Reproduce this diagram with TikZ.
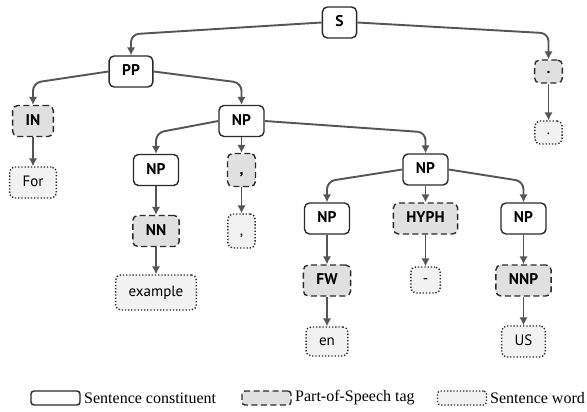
\documentclass[tikz,border=0pt]{standalone}
\usepackage{fontspec}
\setmainfont{Liberation Serif}
\setsansfont{PT Sans}
\usetikzlibrary{arrows.meta}
\definecolor{edgegray}{HTML}{555555}
\definecolor{tagfill}{HTML}{E0E0E0}
\definecolor{wordfill}{HTML}{F2F2F2}
\definecolor{border}{HTML}{2A2A2A}

\begin{document}
\begin{tikzpicture}[x=1pt,y=-1pt,
  base/.style={rounded corners=5pt, line width=1.4pt, draw=border,
    minimum height=31pt, inner xsep=13pt, inner ysep=0pt,
    text height=11pt, text depth=3pt, text=black},
  cons/.style={base, fill=white, font=\sffamily\bfseries\fontsize{15.5}{18}\selectfont},
  tag/.style={base, fill=tagfill, dash pattern=on 6pt off 3.5pt,
    font=\sffamily\bfseries\fontsize{15.5}{18}\selectfont},
  word/.style={base, fill=wordfill, dash pattern=on 1.3pt off 1.9pt,
    font=\sffamily\fontsize{15}{18}\selectfont},
  edge/.style={draw=edgegray, line width=1.9pt, rounded corners=8pt,
    -{Latex[length=8pt,width=8.5pt]}},
  key/.style={minimum width=49pt, minimum height=14pt, rounded corners=3pt,
    inner sep=0pt, text height=0pt, text depth=0pt},
  keytext/.style={anchor=west, inner sep=0pt, font=\fontsize{16}{19}\selectfont},
]
\useasboundingbox (0,0) rectangle (587,412);

% constituents
\node[cons] (S)   at (339.5,22.5) {S};
\node[cons] (PP)  at (131,71.5)   {PP};
\node[cons] (NP1) at (241.5,121)  {NP};
\node[cons] (NP2) at (156,170)    {NP};
\node[cons] (NP3) at (425.5,169.5) {NP};
\node[cons] (NP4) at (327,218.5)  {NP};
\node[cons] (NP5) at (523.5,218.5) {NP};

% part-of-speech tags
\node[tag] (IN)   at (33,121)     {IN};
\node[tag] (NN)   at (156,231)    {NN};
\node[tag, minimum height=33pt, inner xsep=12pt] (cm)  at (241.5,170) {,};
\node[tag] (HYPH) at (425.5,218.5) {HYPH};
\node[tag] (FW)   at (327,280.5)  {FW};
\node[tag] (NNP)  at (523.5,280.5) {NNP};
\node[tag, minimum height=23pt, text height=6pt, text depth=1pt, inner xsep=12pt] (pd) at (548.5,71.5) {.};

% sentence words
\node[word] (For)  at (33,182.5)   {For};
\node[word, minimum height=35pt] (ex) at (156,292.5) {example};
\node[word, minimum height=34pt, inner xsep=12pt] (cw) at (241.5,231) {,};
\node[word, minimum height=26pt, text height=8pt, text depth=1pt, inner xsep=12pt] (hw) at (425.5,280) {-};
\node[word, minimum height=29pt] (en) at (327,341.5) {en};
\node[word] (US)  at (523.5,341.5) {US};
\node[word, minimum height=23pt, text height=6pt, text depth=1pt, inner xsep=12pt] (pw) at (548.5,132.5) {.};

% branching edges
\draw[edge] (S.west)   -- ([yshift=21pt]PP.north)  -- (PP.north);
\draw[edge] (S.east)   -- ([yshift=26pt]pd.north)  -- (pd.north);
\draw[edge] (PP.west)  -- ([yshift=22pt]IN.north)  -- (IN.north);
\draw[edge] (PP.east)  -- ([yshift=22pt]NP1.north) -- (NP1.north);
\draw[edge] (NP1.west) -- ([yshift=21pt]NP2.north) -- (NP2.north);
\draw[edge] (NP1.east) -- ([yshift=21pt]NP3.north) -- (NP3.north);
\draw[edge] (NP3.west) -- ([yshift=21pt]NP4.north) -- (NP4.north);
\draw[edge] (NP3.east) -- ([yshift=21pt]NP5.north) -- (NP5.north);

% straight edges
\draw[edge] (NP1.south)  -- (cm.north);
\draw[edge] (NP3.south)  -- (HYPH.north);
\draw[edge] (IN.south)   -- (For.north);
\draw[edge] (NP2.south)  -- (NN.north);
\draw[edge] (NN.south)   -- (ex.north);
\draw[edge] (cm.south)   -- (cw.north);
\draw[edge] (NP4.south)  -- (FW.north);
\draw[edge] (FW.south)   -- (en.north);
\draw[edge] (HYPH.south) -- (hw.north);
\draw[edge] (NP5.south)  -- (NNP.north);
\draw[edge] (NNP.south)  -- (US.north);
\draw[edge] (pd.south)   -- (pw.north);

% legend
\node[base, key, fill=white] (k1) at (55.5,398) {};
\node[keytext] (t1) at (84,398) {Sentence constituent};
\node[base, key, fill=tagfill, dash pattern=on 6pt off 3.5pt] (k2) at (266.5,398) {};
\node[keytext] (t2) at (295,398) {Part-of-Speech tag};
\node[base, key, fill=wordfill, dash pattern=on 1.3pt off 1.9pt] (k3) at (462,398) {};
\node[keytext] (t3) at (490,398) {Sentence word};
\end{tikzpicture}
\end{document}
